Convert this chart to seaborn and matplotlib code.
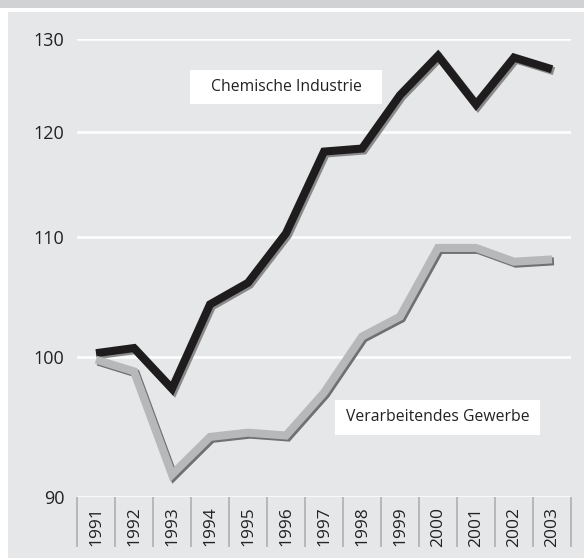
import numpy as np
import pandas as pd
import matplotlib
matplotlib.use("Agg")
import matplotlib.pyplot as plt
import matplotlib.patheffects as pe
from matplotlib.patches import Rectangle
from matplotlib.ticker import FixedLocator, NullLocator
import seaborn as sns

# Data (index, 1991 = 100)
years = list(range(1991, 2004))
chemie = [100.3, 100.7, 97.6, 104.2, 106.0, 110.3, 118.0, 118.3, 123.8, 128.1, 122.8, 127.9, 126.6]
gewerbe = [99.8, 98.9, 91.5, 94.1, 94.4, 94.2, 97.3, 101.6, 103.2, 109.0, 109.0, 107.8, 108.0]
y_ticks = [90, 100, 110, 120, 130]
label_chemie = "Chemische Industrie"
label_gewerbe = "Verarbeitendes Gewerbe"

PANEL = "#e6e7e9"
BAND = "#d1d2d4"

sns.set_theme(style="white")
plt.rcParams["font.family"] = ["Open Sans", "DejaVu Sans"]

df = pd.DataFrame({"Jahr": years, "Chemie": chemie, "Gewerbe": gewerbe})

fig = plt.figure(figsize=(5.84, 5.6), dpi=100, facecolor="white")
# background band + panel
fig.patches.append(Rectangle((0, 552 / 560), 1, 8 / 560, transform=fig.transFigure,
                             facecolor=BAND, edgecolor="none", zorder=-10))
fig.patches.append(Rectangle((8 / 584, 2 / 560), 1, 546 / 560, transform=fig.transFigure,
                             facecolor=PANEL, edgecolor="none", zorder=-10))

ax = fig.add_axes([77 / 584, 63 / 560, 494 / 584, 458 / 560])
ax.set_facecolor(PANEL)


# compressed scale, roughly like the original
def fwd(y):
    return -np.power(np.clip(y, 1e-9, None), -0.5)


def inv(u):
    return np.power(np.clip(-u, 1e-9, None), -2.0)


ax.set_yscale("function", functions=(fwd, inv))

shadow_dark = [pe.SimpleLineShadow(offset=(1.4, -1.4), shadow_color="#8a8a8a", alpha=1.0), pe.Normal()]
shadow_grey = [pe.SimpleLineShadow(offset=(1.4, -1.4), shadow_color="#6f7072", alpha=1.0), pe.Normal()]

sns.lineplot(data=df, x="Jahr", y="Chemie", ax=ax, color="#1e1c1c", linewidth=5.8,
             path_effects=shadow_dark, solid_joinstyle="miter", solid_capstyle="butt", zorder=3)
sns.lineplot(data=df, x="Jahr", y="Gewerbe", ax=ax, color="#b7b8ba", linewidth=5.8,
             path_effects=shadow_grey, solid_joinstyle="miter", solid_capstyle="butt", zorder=4)

ax.set_xlim(years[0] - 0.5, years[-1] + 0.5)
ax.set_ylim(y_ticks[0], y_ticks[-1])

ax.yaxis.set_major_locator(FixedLocator(y_ticks))
ax.yaxis.set_minor_locator(NullLocator())
ax.set_yticklabels([str(v) for v in y_ticks])
ax.tick_params(axis="y", left=True, length=0, pad=9, labelsize=13, labelcolor="#222222")

ax.xaxis.set_major_locator(FixedLocator(years))
ax.xaxis.set_minor_locator(FixedLocator([y - 0.5 for y in years] + [years[-1] + 0.5]))
ax.set_xticklabels([str(y) for y in years], rotation=90, va="top")
ax.tick_params(axis="x", which="major", bottom=True, length=0, pad=7, labelsize=12.5,
               labelcolor="#222222")
ax.tick_params(axis="x", which="minor", bottom=True, length=36, width=1.1, color="#a9aaac",
               direction="out")

ax.grid(axis="y", color="white", linewidth=1.8)
ax.grid(axis="x", visible=False)
ax.set_axisbelow(True)
for s in ax.spines.values():
    s.set_visible(False)
ax.set_xlabel("")
ax.set_ylabel("")

# series labels in white boxes
ax.add_patch(Rectangle((0.2287, 0.8581), 0.3887, 0.0742, transform=ax.transAxes,
                       facecolor="white", edgecolor="none", zorder=5))
ax.text(0.4231, 0.8952, label_chemie, transform=ax.transAxes, ha="center", va="center",
        fontsize=11.3, color="#222222", zorder=6)
ax.add_patch(Rectangle((0.5223, 0.1354), 0.4149, 0.0764, transform=ax.transAxes,
                       facecolor="white", edgecolor="none", zorder=5))
ax.text(0.7298, 0.1736, label_gewerbe, transform=ax.transAxes, ha="center", va="center",
        fontsize=11.3, color="#222222", zorder=6)

fig.savefig("out.png", dpi=100, facecolor="white")
